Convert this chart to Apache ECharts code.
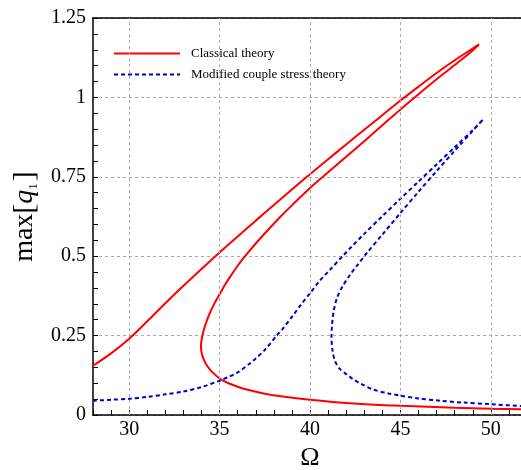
<!DOCTYPE html>
<html>
<head>
<meta charset="utf-8">
<script src="https://cdn.jsdelivr.net/npm/echarts@6/dist/echarts.min.js"></script>
<style>html,body{margin:0;padding:0;background:#fff;}#c{width:521px;height:470px;}</style>
</head>
<body>
<div id="c"></div>
<script>
const xMajorTicks = [30, 35, 40, 45, 50];
const seriesNames = ['Classical theory', 'Modified couple stress theory'];

// Classical theory: upper (stable) branch up to the tip
const classicalUpper = [
  [28,0.155],[29,0.194],[30,0.24],[31,0.295],[32,0.352],[33,0.407],[34,0.46],[35,0.512],
  [36,0.562],[37,0.612],[38,0.661],[39,0.71],[40,0.758],[41,0.805],[42,0.852],[43,0.898],
  [44,0.944],[45,0.99],[46,1.034],[47,1.077],[48,1.117],[49,1.154],[49.35,1.167]
];
// Classical theory: returning (unstable + lower) branch from the tip
const classicalReturn = [
  [49.35,1.167],[49,1.148],[48,1.102],[47,1.057],[46,1.01],[45,0.962],[44,0.912],[43,0.862],
  [42,0.813],[41,0.764],[40,0.715],[39.22,0.672],[38.5,0.632],[37.88,0.595],[37,0.54],
  [36.41,0.5],[36,0.47],[35.58,0.435],[35.3,0.41],[35.03,0.383],[34.7,0.35],[34.44,0.318],
  [34.25,0.29],[34.1,0.262],[34.0,0.235],[33.97,0.215],[34.02,0.193],[34.12,0.175],
  [34.3,0.156],[34.6,0.135],[35,0.115],[35.5,0.1],[36,0.089],[36.5,0.08],[37.5,0.067],
  [38.5,0.058],[40,0.048],[42,0.038],[45,0.029],[48,0.023],[50,0.02],[52,0.018]
];
// Modified couple stress theory: upper branch up to the tip
const mcstUpper = [
  [28,0.045],[29,0.048],[30,0.051],[31,0.057],[32,0.065],[33,0.074],[34,0.088],[35,0.108],
  [35.5,0.12],[36,0.134],[36.69,0.163],[37,0.178],[37.5,0.205],[38.16,0.25],[38.5,0.272],
  [39.08,0.315],[39.5,0.348],[40,0.383],[40.5,0.42],[41.1,0.457],[41.8,0.5],[42.3,0.53],
  [42.94,0.567],[44,0.626],[45,0.681],[46,0.735],[47,0.789],[48,0.843],[49,0.897],[49.58,0.931]
];
// Modified couple stress theory: returning branch from the tip
const mcstReturn = [
  [49.58,0.931],[49,0.895],[48,0.832],[47,0.768],[46,0.703],[45,0.636],[44,0.568],
  [43.13,0.509],[42.6,0.47],[42.2,0.44],[41.8,0.405],[41.5,0.37],[41.32,0.33],
  [41.22,0.285],[41.19,0.245],[41.24,0.205],[41.38,0.17],[41.65,0.145],[42.03,0.128],
  [42.4,0.112],[42.76,0.1],[43.5,0.08],[44.33,0.068],[45,0.061],[46,0.052],[47.18,0.045],
  [48.5,0.039],[50,0.034],[52,0.027]
];

const serif = 'Liberation Serif';
const chart = echarts.init(document.getElementById('c'), null, {renderer: 'canvas'});
chart.setOption({
  animation: false,
  backgroundColor: '#fff',
  grid: {
    left: 93, right: -6, top: 18, bottom: 55,
    outerBoundsMode: 'none', containLabel: false,
    show: false
  },
  legend: {
    data: seriesNames,
    orient: 'vertical',
    left: 108, top: 42,
    itemWidth: 66, itemHeight: 14, itemGap: 8,
    itemStyle: {opacity: 0, borderWidth: 0},
    textStyle: {fontFamily: serif, fontSize: 13, color: '#000', padding: [0, 0, 0, 6]}
  },
  xAxis: [{
    type: 'value', min: 28, max: 52, interval: 1,
    axisLine: {onZero: false, lineStyle: {color: '#000', width: 1.5}},
    axisTick: {inside: true, length: 5, lineStyle: {color: '#000'}},
    axisLabel: {
      margin: 5, color: '#000', fontFamily: serif, fontSize: 20,
      formatter: v => (xMajorTicks.indexOf(v) >= 0 ? String(v) : '')
    },
    splitLine: {show: false},
    name: 'Ω', nameLocation: 'middle', nameGap: 28,
    nameTextStyle: {fontFamily: serif, fontSize: 26, color: '#000'}
  }, {
    type: 'value', position: 'top', min: 28, max: 52, interval: 1,
    axisLine: {onZero: false, show: true, lineStyle: {color: '#000', width: 1.5}},
    axisTick: {show: false}, axisLabel: {show: false}, splitLine: {show: false}
  }],
  yAxis: {
    type: 'value', min: 0, max: 1.25, interval: 0.25,
    axisLine: {lineStyle: {color: '#000', width: 1.5}},
    axisTick: {inside: true, length: 5, lineStyle: {color: '#000'}},
    minorTick: {show: true, splitNumber: 5, length: 5, lineStyle: {color: '#000'}},
    axisLabel: {margin: 7, color: '#000', fontFamily: serif, fontSize: 20},
    splitLine: {show: true, lineStyle: {color: '#aaa', type: [3, 3], width: 1}},
    name: '{m|max}{b|[}{q|q}{s|1}{b|]}',
    nameLocation: 'middle', nameGap: 41, nameRotate: 90,
    nameTextStyle: {
      rich: {
        m: {fontFamily: serif, fontSize: 28, color: '#000'},
        b: {fontFamily: serif, fontSize: 30, color: '#000'},
        q: {fontFamily: serif, fontSize: 28, fontStyle: 'italic', color: '#000'},
        s: {fontFamily: serif, fontSize: 13, color: '#000', verticalAlign: 'bottom', padding: [0, 2, 0, 0]}
      }
    }
  },
  series: [
    {
      name: 'grid', type: 'line', data: [], z: 1, silent: true,
      markLine: {
        silent: true, symbol: 'none', label: {show: false},
        lineStyle: {color: '#aaa', type: [3, 3], width: 1},
        data: xMajorTicks.map(v => ({xAxis: v}))
      }
    },
    {
      name: seriesNames[0], type: 'line', z: 3, smooth: 0.3,
      showSymbol: false, symbol: 'none',
      lineStyle: {color: '#ff0000', width: 2},
      itemStyle: {color: '#ff0000'},
      data: classicalUpper.concat(classicalReturn.slice(1))
    },
    {
      name: seriesNames[1], type: 'line', z: 3, smooth: 0.3,
      showSymbol: false, symbol: 'none',
      lineStyle: {color: '#0000c8', width: 2, type: [4, 3]},
      itemStyle: {color: '#0000c8'},
      data: mcstUpper.concat(mcstReturn.slice(1))
    }
  ]
});
</script>
</body>
</html>
